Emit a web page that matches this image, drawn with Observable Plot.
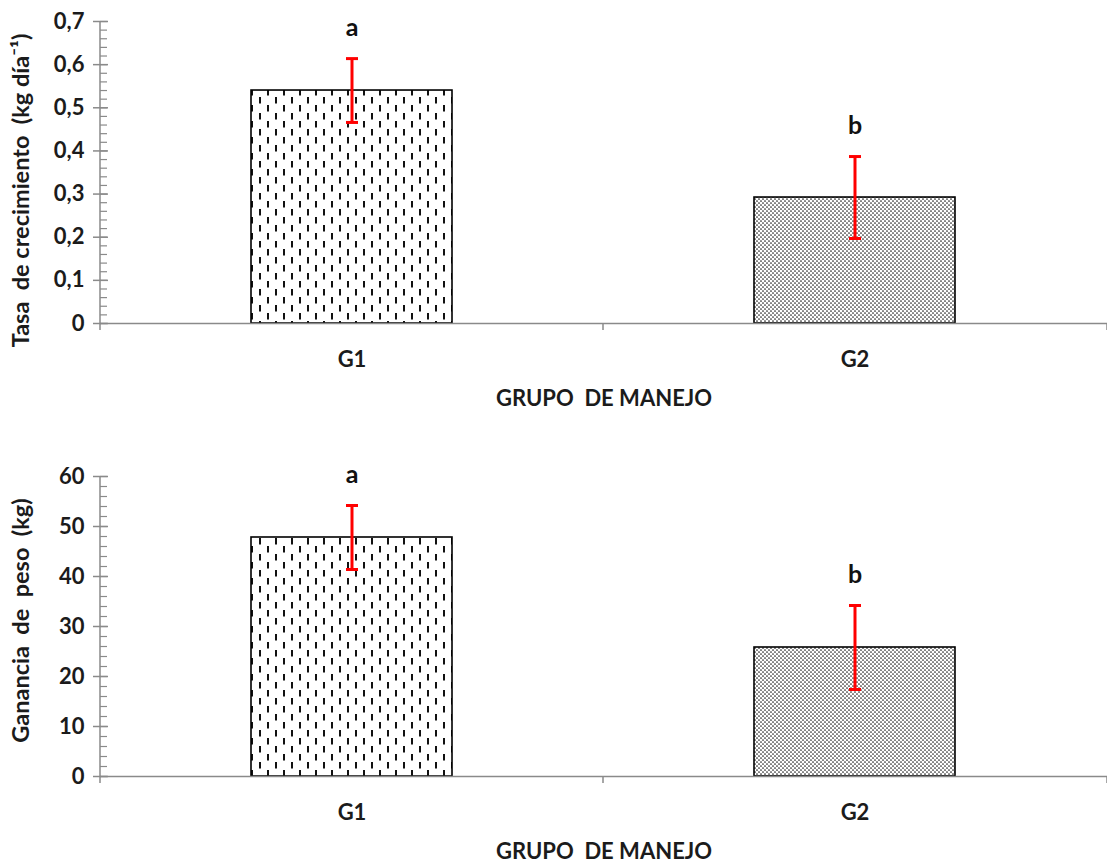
<!DOCTYPE html>
<html>
<head>
<meta charset="utf-8">
<script src="https://cdn.jsdelivr.net/npm/d3@7"></script>
<script src="https://cdn.jsdelivr.net/npm/@observablehq/plot@0.6"></script>
<style>
  html, body { margin: 0; padding: 0; background: #fff; }
  #charts > svg { display: block; }
</style>
</head>
<body>
<svg width="0" height="0" style="position:absolute">
  <defs>
    <pattern id="pat-dash" patternUnits="userSpaceOnUse" width="16" height="16">
      <rect width="16" height="16" fill="#fff"/>
      <rect x="3" y="1" width="2" height="6.5" fill="#111"/>
      <rect x="11" y="9" width="2" height="6.5" fill="#111"/>
    </pattern>
    <pattern id="pat-dot" patternUnits="userSpaceOnUse" width="4" height="4">
      <rect width="4" height="4" fill="#fff"/>
      <circle cx="1" cy="1" r="0.85" fill="#222"/>
      <circle cx="3" cy="3" r="0.85" fill="#222"/>
    </pattern>
  </defs>
</svg>
<div id="charts"></div>
<script>
// ---- data ----
const groups = ["G1", "G2"];
const letters = ["a", "b"];
const rateMean = [0.54, 0.292];
const rateErr = [0.074, 0.095];
const gainMean = [47.8, 25.8];
const gainErr = [6.4, 8.4];
const rateTicks = [0, 0.1, 0.2, 0.3, 0.4, 0.5, 0.6, 0.7];
const gainTicks = [0, 10, 20, 30, 40, 50, 60];
const rateMinor = d3.range(0, 0.7001, 0.02);
const gainMinor = d3.range(0, 60.001, 2);
const barFills = ["url(#pat-dash)", "url(#pat-dot)"];
const xTitle = "GRUPO  DE MANEJO";
const rateTitle = "Tasa  de crecimiento  (kg día⁻¹)";
const gainTitle = "Ganancia  de  peso  (kg)";

const FONT = "Lato,'Open Sans','DejaVu Sans Condensed',sans-serif";
const AXIS = "#8a8a8a";

const capSymbol = {
  draw(ctx, size) {
    const w = Math.sqrt(size / Math.PI);
    ctx.moveTo(-w, 0);
    ctx.lineTo(w, 0);
  }
};

function axisLines(tickLen) {
  return function(...args) {
    let scales;
    if (args.length >= 4) scales = args[1]; else scales = args[0];
    const x = scales.x, y = scales.y;
    const bw = typeof x.bandwidth === "function" ? x.bandwidth() : x.bandwidth;
    const [r0, r1] = x.range();
    const y0 = y(0);
    const yd = y.domain();
    const g = d3.create("svg:g").attr("stroke", AXIS).attr("stroke-width", 1.5);
    g.append("line").attr("x1", r0).attr("x2", r0).attr("y1", y(yd[1])).attr("y2", y0);
    const mid = (x(groups[0]) + x(groups[1]) + bw) / 2;
    for (const p of [r0, mid, r1]) {
      g.append("line").attr("x1", p).attr("x2", p).attr("y1", y0).attr("y2", y0 + tickLen);
    }
    return g.node();
  };
}

function makeChart({means, errs, ticks, minor, yMax, title, titleDy, height, marginTop, marginBottom, fmt}) {
  const data = groups.map((g, i) => ({g, mean: means[i], err: errs[i], letter: letters[i], fill: barFills[i]}));
  return Plot.plot({
    width: 1107,
    height,
    marginLeft: 100,
    marginRight: 0,
    marginTop,
    marginBottom,
    style: {fontFamily: FONT, fontWeight: "bold", fontSize: "22px", color: "#1b1b1b", background: "#fff"},
    x: {domain: groups, paddingInner: 0.6, paddingOuter: 0.3, label: null},
    y: {domain: [0, yMax], label: null},
    color: {type: "identity"},
    marks: [
      Plot.barY(data, {x: "g", y: "mean", fill: "fill", stroke: "#000", strokeWidth: 1.6}),
      Plot.ruleY([0], {stroke: AXIS, strokeWidth: 1.5}),
      axisLines(7),
      Plot.ruleX(data, {x: "g", y1: d => d.mean - d.err, y2: d => d.mean + d.err, stroke: "#ff0000", strokeWidth: 3}),
      Plot.dot(data, {x: "g", y: d => d.mean + d.err, symbol: capSymbol, r: 6, stroke: "#ff0000", strokeWidth: 3}),
      Plot.dot(data, {x: "g", y: d => d.mean - d.err, symbol: capSymbol, r: 6, stroke: "#ff0000", strokeWidth: 3}),
      Plot.text(data, {x: "g", y: d => d.mean + d.err, text: "letter", dy: -31, fontSize: 25, fontWeight: "bold", fill: "#111"}),
      Plot.axisY(ticks, {tickSize: 0, tickPadding: 16, tickFormat: fmt, fill: "#1b1b1b", label: null}),
      Plot.text([title], {text: d => d, frameAnchor: "left", textAnchor: "middle", lineAnchor: "middle",
        rotate: -90, dx: -79, dy: titleDy, fontSize: 23.5, fontWeight: "bold", fill: "#1b1b1b"}),
      Plot.axisY(ticks, {tickSize: 15, dx: 8, tickFormat: () => "", stroke: AXIS, strokeWidth: 1.5, label: null}),
      Plot.axisY(minor, {tickSize: 7, dx: 7, tickFormat: () => "", stroke: AXIS, strokeWidth: 1.2, label: null}),
      Plot.axisX({tickSize: 0, tickPadding: 28, fill: "#1b1b1b",
        label: xTitle, labelAnchor: "center", labelOffset: 82, labelArrow: "none"})
    ]
  });
}

const commaFmt = d => d === 0 ? "0" : String(d).replace(".", ",");

const chartTop = makeChart({means: rateMean, errs: rateErr, ticks: rateTicks, minor: rateMinor, yMax: 0.7,
  title: rateTitle, titleDy: 18, height: 425, marginTop: 21, marginBottom: 102, fmt: commaFmt});
const chartBottom = makeChart({means: gainMean, errs: gainErr, ticks: gainTicks, minor: gainMinor, yMax: 60,
  title: gainTitle, titleDy: -6, height: 438, marginTop: 51, marginBottom: 87, fmt: d => String(d)});

document.getElementById("charts").append(chartTop, chartBottom);
</script>
</body>
</html>
